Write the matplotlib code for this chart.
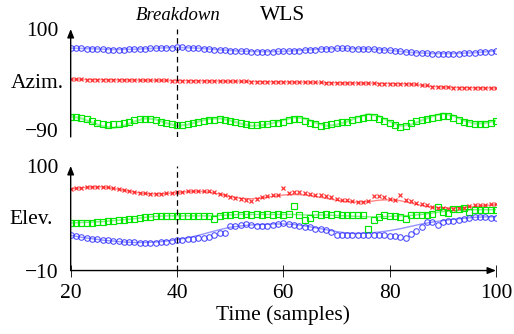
import numpy as np
import matplotlib
matplotlib.use("Agg")
from matplotlib import pyplot as plt

plt.rcParams['font.family'] = ['Liberation Serif', 'DejaVu Serif']

# vremenski uzorci (markeri svaki uzorak, linije svaki 2. / 4. uzorak)
t = np.arange(20, 101)
t2 = np.arange(20, 101, 2)
t4 = np.arange(20, 101, 4)

# --- Azim. (gornji graf) ---
azim_blue = [64, 63.5, 63.5, 63, 63, 62.5, 62, 61.5, 61.5, 61.5,
             61.5, 62, 62, 62.5, 63, 63.5, 64, 64.5, 65, 65,
             65.5, 65.5, 65, 64.5, 64, 63, 62, 61.5, 61, 60,
             59.5, 59, 58.5, 58, 57.5, 57.5, 57.5, 57.5, 57.5, 58,
             58, 58.5, 59, 59.5, 60.5, 61, 61.5, 62, 63, 63,
             63.5, 63.5, 63.5, 63, 63, 62.5, 62.5, 62, 61, 60.5,
             60, 59, 58, 57, 56, 55.5, 55, 54.5, 54, 54,
             54, 54, 54, 54, 54.5, 54.5, 55, 56, 56.5, 57.5,
             59]
azim_red = [5.5, 5.5, 5.5, 5, 5, 5, 5, 4.5, 4.5, 4.5,
            4.5, 4, 4, 4, 4, 3.5, 3.5, 3.5, 3.5, 3,
            3, 3, 3, 2.5, 2.5, 2.5, 2.5, 2, 2, 2,
            2, 1.5, 1.5, 1.5, 1, 1, 1, 0.5, 0.5, 0.5,
            0.5, 0, 0, 0, 0, -0.5, -0.5, -0.5, -1, -1,
            -1, -1, -1.5, -1.5, -1.5, -2, -2, -2, -2.5, -2.5,
            -2.5, -3, -3, -3.5, -3.5, -4, -4.5, -6, -9, -9.5,
            -9.5, -9.5, -10, -10, -10, -10, -10.5, -10.5, -10.5, -11,
            -11]
azim_green = [-65, -66, -67, -70, -73, -76, -78, -80, -79, -78,
              -76, -74, -72, -70, -69, -70, -72, -74, -77, -79,
              -80, -80, -79, -77, -75, -73, -72, -71, -70, -71,
              -73, -75, -77, -79, -80, -80, -79, -78, -77, -76,
              -74, -72, -69, -70, -73, -76, -79, -82, -81, -78,
              -76, -75, -74, -72, -70, -67, -65, -66, -69, -73,
              -77, -80, -84, -82, -77, -73, -71, -70, -68, -66,
              -64, -64, -67, -71, -75, -77, -78, -78, -78, -76,
              -73]
azim_blue_ref = [64, 63, 61.5, 62, 64, 65.5, 64, 61, 58.5, 57.5, 58,
                 60.5, 63, 63.5, 62.5, 60, 56, 54, 54, 55.5, 59]
azim_red_ref = [5.5, 5, 4.5, 4, 3.5, 3, 2.5, 2, 1.5, 1, 0.5,
                0, -1, -1.5, -2, -2.5, -3.5, -8, -10, -10.5, -11]
azim_green_ref = [-64, -68, -76, -83, -86, -82, -74, -68, -70, -77, -82,
                  -80, -74, -69, -68, -72, -78, -82, -81, -77, -71,
                  -66, -68, -76, -82, -80, -74, -66, -60, -64, -74,
                  -82, -80, -72, -64, -59, -63, -72, -78, -77, -72]

# --- Elev. (donji graf) ---
elev_red = [76, 76.5, 77, 77.5, 78, 78, 78, 77.5, 77, 76,
            75, 74, 73, 72, 71.5, 71, 71, 71, 71.5, 72,
            72.5, 73, 73.5, 74, 74, 74, 73.5, 72.5, 71, 69,
            67.5, 66.5, 65, 64, 63.5, 65, 67, 68.5, 69.5, 70,
            77, 72, 72.5, 72.5, 72, 71, 70, 69, 68, 67,
            65.5, 64.5, 64, 63, 62.5, 62.5, 63, 68, 68, 67,
            65, 64.5, 70, 64, 63.5, 61, 60, 58.5, 57, 56,
            55.5, 55, 55, 55.5, 56, 57.5, 58.5, 59, 59, 60,
            59.5]
elev_green = [40, 40, 40, 40.5, 40.5, 41, 41.5, 42, 42.5, 43,
              43.5, 44, 44.5, 45.5, 46.5, 46.5, 47, 47, 47, 47,
              47, 47, 47, 47, 47, 47, 47, 44.5, 47, 48.5,
              48, 49, 48, 49.5, 48.5, 49, 48, 49.5, 48.5, 49,
              48.5, 49, 57.5, 48.5, 43.5, 45.5, 49, 48.5, 49, 48.5,
              49, 48.5, 48.5, 48.5, 48, 48.5, 33.5, 43.5, 46.5, 48,
              47, 47.5, 46, 44.5, 48, 48, 48.5, 48, 49, 56.5,
              52, 50.5, 55, 54.5, 55.5, 51.5, 54, 53.5, 53.5, 53.5,
              53.5]
elev_blue = [27, 26, 25, 24, 23.5, 23, 22.5, 22, 21.5, 21,
             20.5, 20, 20, 19.5, 19, 19, 19.5, 20, 20.5, 21.5,
             22, 22.5, 23, 23.5, 24, 24.5, 25.5, 27, 29, 30,
             36.5, 37, 37.5, 38.5, 37.5, 37, 36.5, 37, 38, 39,
             40, 38.5, 38, 37, 36, 35.5, 34, 33.5, 33, 31,
             27.5, 27, 27, 27, 27, 27, 27, 27, 27, 27,
             26.5, 26, 25.5, 24.5, 28, 31.5, 36, 41, 41.5, 38,
             41.5, 42, 42.5, 43, 44, 45, 46, 46.5, 46.5, 45,
             45.5]
elev_red_ref = [76, 77, 78, 78, 76.5, 74.5, 72.5, 71, 70.5, 71, 72,
                73, 73.5, 72.5, 70.5, 68, 66, 65.5, 66.5, 68, 69.5,
                70, 69.5, 68, 66, 64, 62.5, 62, 62.5, 64, 64.5,
                63.5, 61, 58.5, 56.5, 56, 56, 56.5, 57.5, 58.5, 59.5]
elev_green_ref = [40, 40.5, 41, 41.5, 42.5, 43.5, 44.5, 46, 47, 47.5, 47.5,
                  47.5, 47.5, 47.5, 48, 48.5, 49, 49, 49, 49, 49,
                  49, 48.5, 48.5, 48.5, 48, 47.5, 47, 46.5, 46.5, 47,
                  47.5, 48, 49, 50.5, 52, 53, 53.5, 54, 54, 54]
elev_blue_ref = [27, 25, 23.5, 22, 21, 20, 19.5, 19.5, 20, 21, 22.5,
                 24.5, 27, 30, 33, 35.5, 37, 38, 38.5, 39, 39,
                 38.5, 37, 35, 33, 31, 29.5, 29, 29.5, 30.5, 32,
                 34, 36.5, 39, 41, 42.5, 44, 45, 46, 46.5, 46.5]

breakdown = 40

fig = plt.figure(figsize=(5.14, 3.34), dpi=100)
ax1 = fig.add_axes([0.1375, 0.590, 0.8275, 0.323])
ax2 = fig.add_axes([0.1375, 0.190, 0.8275, 0.313])

blue = '#2a2aff'
red = '#ff1010'
green = '#00e600'

# referentne (tanke) linije
ax1.plot(t4, azim_blue_ref, color=blue, lw=1.2, alpha=0.4)
ax1.plot(t4, azim_red_ref, color=red, lw=1.2, alpha=0.4)
ax1.plot(t2, azim_green_ref, color=green, lw=1.6, alpha=0.4)
ax2.plot(t2, elev_red_ref, color=red, lw=1.0, alpha=0.5)
ax2.plot(t2, elev_green_ref, color=green, lw=1.0, alpha=0.5)
ax2.plot(t2, elev_blue_ref, color=blue, lw=1.0, alpha=0.5)

# procjene (markeri)
ax1.plot(t, azim_blue, 'o', ms=4.0, mfc='none', mec=blue, mew=0.75, alpha=0.85)
ax1.plot(t, azim_red, 'x', ms=3.3, mec=red, mew=0.9, alpha=0.85)
ax1.plot(t, azim_green, 's', ms=4.5, mfc='none', mec=green, mew=0.85)
ax2.plot(t, elev_red, 'x', ms=3.3, mec=red, mew=0.9, alpha=0.85)
ax2.plot(t, elev_green, 's', ms=4.5, mfc='none', mec=green, mew=0.85)
ax2.plot(t, elev_blue, 'o', ms=4.0, mfc='none', mec=blue, mew=0.75, alpha=0.85)

for ax in (ax1, ax2):
    ax.axvline(breakdown, color='black', lw=0.9, ls=(0, (4.5, 3)))
    ax.set_xlim(20, 100)
    for s in ax.spines.values():
        s.set_visible(False)
    # y os sa strelicom
    ax.annotate('', xy=(0, 1), xytext=(0, 0), xycoords='axes fraction',
                arrowprops=dict(arrowstyle='-|>,head_length=0.5,head_width=0.2',
                                lw=1.0, color='black', shrinkA=0, shrinkB=0))
    ax.tick_params(axis='y', length=0, pad=9, labelsize=15.5)

ax1.set_ylim(-103, 100)
ax1.set_yticks([-90, 100])
ax1.set_yticklabels(['\u221290', '100'])
ax1.set_xticks([])

ax2.set_ylim(-10, 100)
ax2.set_yticks([-10, 100])
ax2.set_yticklabels(['\u221210', '100'])
ax2.set_xticks([20, 40, 60, 80, 100])
ax2.tick_params(axis='x', direction='inout', length=9, width=0.6, pad=5, labelsize=15.5)
ax2.annotate('', xy=(1, 0), xytext=(0, 0), xycoords='axes fraction',
             arrowprops=dict(arrowstyle='-|>,head_length=0.5,head_width=0.2',
                             lw=1.0, color='black', shrinkA=0, shrinkB=0))
ax2.set_xlabel('Time (samples)', fontsize=15.5, labelpad=2)

fig.text(37 / 514, 1 - 84 / 334, 'Azim.', ha='center', va='center', fontsize=15.5)
fig.text(31 / 514, 1 - 219 / 334, 'Elev.', ha='center', va='center', fontsize=15.5)
fig.text(178 / 514, 1 - 15 / 334, 'Breakdown', ha='center', va='center',
         fontsize=13.5, style='italic')
fig.text(283 / 514, 1 - 15 / 334, 'WLS', ha='center', va='center', fontsize=15.5)

fig.savefig('out.png', dpi=100)
